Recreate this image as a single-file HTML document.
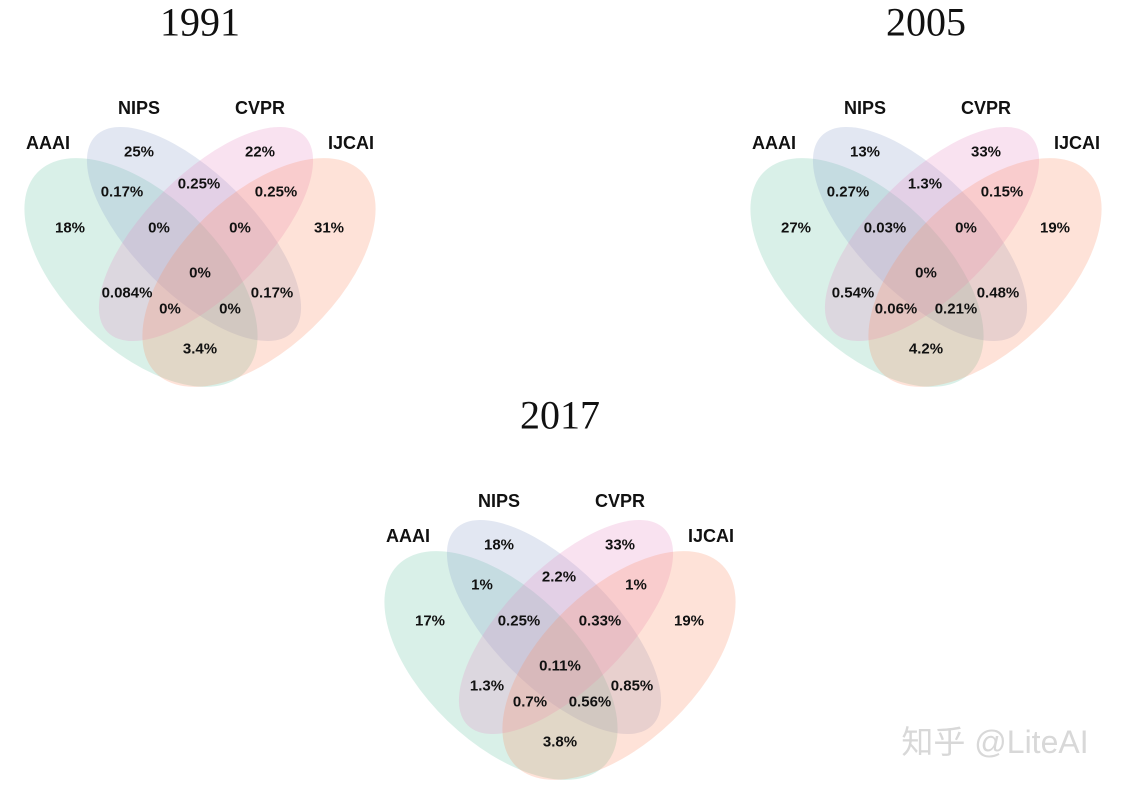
<!DOCTYPE html>
<html><head><meta charset="utf-8"><style>
html,body{margin:0;padding:0;background:#fff;}
svg{display:block;}
.num{font-family:"Liberation Sans",sans-serif;font-weight:bold;font-size:15px;fill:#111;text-anchor:middle;dominant-baseline:central;}
.lab{font-family:"Liberation Sans",sans-serif;font-weight:bold;font-size:18px;fill:#111;text-anchor:middle;dominant-baseline:central;}
.title{font-family:"Liberation Serif",serif;font-size:40px;fill:#111;text-anchor:middle;dominant-baseline:central;}
</style></head><body>
<svg id="chart" width="1122" height="789" viewBox="0 0 1122 789">
<text x="995" y="742" font-family="'Liberation Sans','Noto Sans CJK SC',sans-serif" font-size="32" fill="#d8d8d8" text-anchor="middle" dominant-baseline="central">知乎 @LiteAI</text>
</svg>
<script>
const years = ["1991","2005","2017"];
const setNames = ["AAAI","NIPS","CVPR","IJCAI"];
const regionKeys = ["0001","0010","0011","0100","0101","0110","0111","1000","1001","1010","1011","1100","1101","1110","1111"];
const values1991 = ["31%","22%","0.25%","25%","0.17%","0.25%","0%","18%","3.4%","0.084%","0%","0.17%","0%","0%","0%"];
const values2005 = ["19%","33%","0.15%","13%","0.48%","1.3%","0%","27%","4.2%","0.54%","0.06%","0.27%","0.21%","0.03%","0%"];
const values2017 = ["19%","33%","1%","18%","0.85%","2.2%","0.33%","17%","3.8%","1.3%","0.7%","1%","0.56%","0.25%","0.11%"];
const allValues = [values1991, values2005, values2017];

const svg = document.getElementById('chart');
const NS = "http://www.w3.org/2000/svg";
const offsets = [[0,0],[726,0],[360,393]];
const textPos = {"0001":[329,228],"0010":[260,152],"0011":[276,192],"0100":[139,152],"0101":[272,293],"0110":[199,184],"0111":[240,228],"1000":[70,228],"1001":[200,349],"1010":[127,293],"1011":[170,309],"1100":[122,192],"1101":[230,309],"1110":[159,228],"1111":[200,273]};
const ell = [[141,272.5,144,77,44],[194,234,139,60,45],[206,234,139,60,-45],[259,272.5,144,77,-44]];
const colors = ["#66c2a5","#8da0cb","#e78ac3","#fc8d62"];
const labPos = [[48,143],[139,108],[260,108],[351,143]];
years.forEach((yr, p) => {
  const [ox, oy] = offsets[p];
  const g = document.createElementNS(NS,'g');
  
  
  svg.insertBefore(g, svg.lastElementChild);
  ell.forEach((e, i) => {
    const el = document.createElementNS(NS,'ellipse');
    
    
    el.setAttribute('cx', 0); el.setAttribute('cy', 0);
    el.setAttribute('rx', e[2]); el.setAttribute('ry', e[3]);
    el.setAttribute('transform', `translate(${e[0]+ox},${e[1]+oy}) rotate(${e[4]})`);
    el.setAttribute('fill', colors[i]); el.setAttribute('fill-opacity', '0.25');
    g.appendChild(el);
  });
  const t = document.createElementNS(NS,'text');
  
  
  t.setAttribute('class','title'); t.setAttribute('x', 200 + ox); t.setAttribute('y', 22 + oy);
  t.textContent = yr; g.appendChild(t);
  setNames.forEach((n, i) => {
    const l = document.createElementNS(NS,'text');
    
    
    l.setAttribute('class','lab');
    l.setAttribute('x', labPos[i][0] + ox);
    l.setAttribute('y', labPos[i][1] + oy);
    l.textContent = n; g.appendChild(l);
  });
  regionKeys.forEach((k, i) => {
    const n = document.createElementNS(NS,'text');
    
    
    n.setAttribute('class','num');
    n.setAttribute('x', textPos[k][0] + ox); n.setAttribute('y', textPos[k][1] + oy);
    n.textContent = allValues[p][i]; g.appendChild(n);
  });
});
</script>
</body></html>
